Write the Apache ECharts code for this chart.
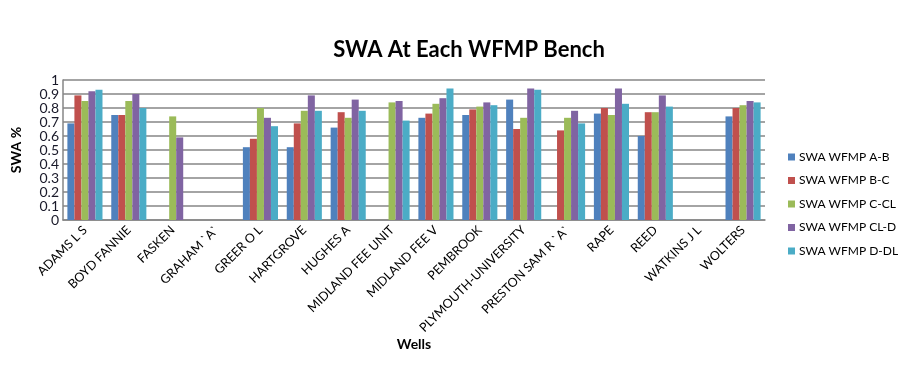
<!DOCTYPE html>
<html>
<head>
<meta charset="utf-8">
<script src="https://cdn.jsdelivr.net/npm/echarts@6/dist/echarts.min.js"></script>
<style>html,body{margin:0;padding:0;background:#fff;}#c{width:924px;height:369px;}</style>
</head>
<body>
<div id="c"></div>
<script>
const categories = ['ADAMS L S','BOYD FANNIE','FASKEN','GRAHAM `A`','GREER O L','HARTGROVE','HUGHES A','MIDLAND FEE UNIT','MIDLAND FEE V','PEMBROOK','PLYMOUTH-UNIVERSITY','PRESTON SAM R `A`','RAPE','REED','WATKINS J L','WOLTERS'];
const seriesNames = ['SWA WFMP A-B','SWA WFMP B-C','SWA WFMP C-CL','SWA WFMP CL-D','SWA WFMP D-DL'];
const swaAB   = [0.69, 0.75, null, null, 0.52, 0.52, 0.66, null, 0.73, 0.75, 0.86, null, 0.76, 0.60, null, 0.74];
const swaBC   = [0.89, 0.75, null, null, 0.58, 0.69, 0.77, null, 0.76, 0.79, 0.65, 0.64, 0.80, 0.77, null, 0.80];
const swaCCL  = [0.85, 0.85, 0.74, null, 0.80, 0.78, 0.73, 0.84, 0.83, 0.81, 0.73, 0.73, 0.75, 0.77, null, 0.82];
const swaCLD  = [0.92, 0.90, 0.59, null, 0.73, 0.89, 0.86, 0.85, 0.87, 0.84, 0.94, 0.78, 0.94, 0.89, null, 0.85];
const swaDDL  = [0.93, 0.80, null, null, 0.67, 0.78, 0.78, 0.71, 0.94, 0.82, 0.93, 0.69, 0.83, 0.81, null, 0.84];
const yTicks = [0, 0.1, 0.2, 0.3, 0.4, 0.5, 0.6, 0.7, 0.8, 0.9, 1];
const colors = ['#4F81BD','#C0504D','#9BBB59','#8064A2','#4BACC6'];
const allData = [swaAB, swaBC, swaCCL, swaCLD, swaDDL];

const chart = echarts.init(document.getElementById('c'), null, {renderer:'canvas'});
const FONT = 'Lato, "Open Sans", sans-serif';
chart.setOption({
  animation: false,
  color: colors,
  textStyle: {fontFamily: FONT},
  title: {
    text: 'SWA At Each WFMP Bench',
    left: 464, top: 34, textAlign: 'center',
    textStyle: {fontFamily: FONT, fontSize: 22, fontWeight: 'bold', color: '#000'}
  },
  legend: {
    orient: 'vertical', left: 783, top: 146,
    itemWidth: 7, itemHeight: 7, itemGap: 11.5, icon: 'rect',
    data: seriesNames,
    textStyle: {fontFamily: FONT, fontSize: 12, color: '#000', padding: [0,0,0,-1]}
  },
  grid: {left: 63, right: 159, top: 80, bottom: 149, containLabel: false},
  xAxis: {
    type: 'category', data: categories,
    name: 'Wells', nameLocation: 'middle', nameGap: 117,
    nameTextStyle: {fontFamily: FONT, fontSize: 14, fontWeight: 'bold', color: '#000'},
    axisLine: {lineStyle: {color: '#868686', width: 1.5}},
    axisTick: {show: false},
    axisLabel: {interval: 0, rotate: 45, fontFamily: FONT, fontSize: 12.5, color: '#000', margin: 8}
  },
  yAxis: {
    type: 'value', min: 0, max: 1, interval: 0.1,
    name: 'SWA %', nameLocation: 'middle', nameGap: 40, nameRotate: 90,
    nameTextStyle: {fontFamily: FONT, fontSize: 14, fontWeight: 'bold', color: '#000'},
    axisLine: {show: true, lineStyle: {color: '#868686', width: 1.5}},
    axisTick: {show: false},
    splitLine: {lineStyle: {color: '#868686', width: 1.5}},
    axisLabel: {fontFamily: FONT, fontSize: 14, color: '#1a1a2a', margin: 4,
      formatter: v => { const t = yTicks.find(x => Math.abs(x - v) < 1e-9); return t === undefined ? '' : String(t); }}
  },
  series: seriesNames.map((n, i) => ({
    name: n, type: 'bar', data: allData[i],
    barGap: '0%', barCategoryGap: '20%'
  }))
});
</script>
</body>
</html>
